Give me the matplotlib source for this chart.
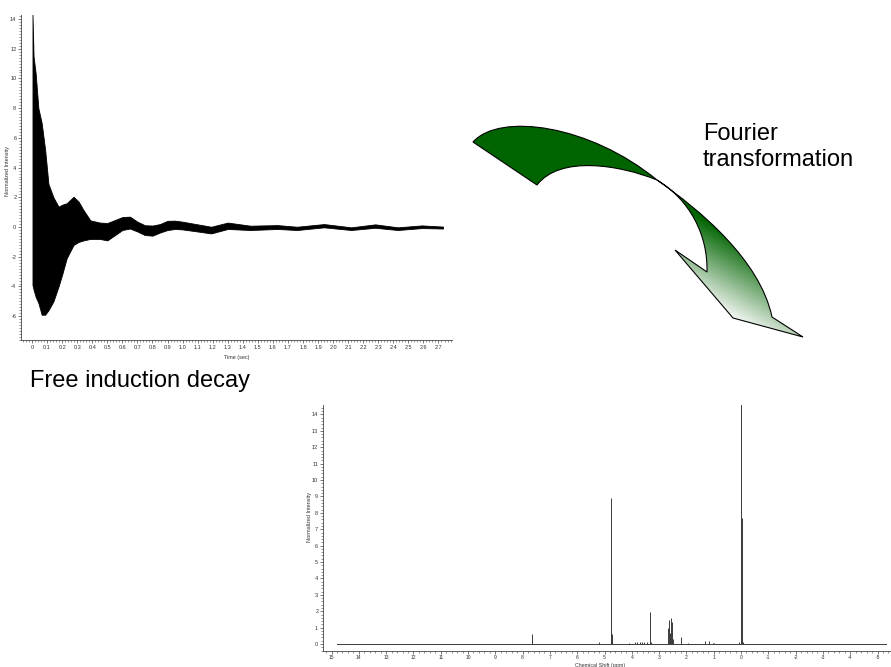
import numpy as np
import matplotlib
matplotlib.use('Agg')
import matplotlib.pyplot as plt
from matplotlib.path import Path
from matplotlib.patches import PathPatch
from matplotlib.colors import LinearSegmentedColormap
from matplotlib.ticker import MultipleLocator, FuncFormatter

plt.rcParams['font.family'] = ['Liberation Sans', 'DejaVu Sans']

# free induction decay: envelope of the oscillating signal (upper / lower edge)
fid_time = [0.003, 0.01, 0.024, 0.042, 0.064, 0.087, 0.109, 0.142, 0.176, 0.2,
            0.23, 0.276, 0.31, 0.342, 0.387, 0.45, 0.5, 0.55, 0.6, 0.65,
            0.7, 0.75, 0.8, 0.85, 0.9, 0.95, 1.0, 1.1, 1.19, 1.3,
            1.45, 1.63, 1.76, 1.94, 2.12, 2.28, 2.43, 2.59, 2.73]
fid_upper = [14.3, 11.5, 10.35, 8.0, 7.0, 5.2, 2.9, 2.0, 1.37, 1.5,
             1.6, 2.04, 1.7, 1.14, 0.45, 0.3, 0.27, 0.47, 0.67, 0.7,
             0.36, 0.12, 0.1, 0.2, 0.42, 0.43, 0.36, 0.18, 0.02, 0.3,
             0.09, 0.13, 0.02, 0.2, -0.02, 0.18, -0.02, 0.11, 0.03]
fid_lower = [-3.9, -4.2, -4.7, -5.1, -5.9, -5.9, -5.6, -5.0, -4.0, -3.2,
             -2.1, -1.2, -1.0, -0.9, -0.8, -0.8, -0.9, -0.55, -0.2, -0.1,
             -0.3, -0.54, -0.58, -0.37, -0.2, -0.13, -0.16, -0.3, -0.43, -0.13,
             -0.2, -0.13, -0.2, -0.02, -0.2, -0.05, -0.2, -0.07, -0.1]

# 1H spectrum: peak positions (ppm) and heights
peak_ppm = [7.67, 5.22, 4.78, 4.77, 4.75, 4.73, 4.71, 4.10, 3.88, 3.80, 3.70,
            3.62, 3.55, 3.45, 3.34, 3.28, 2.66, 2.63, 2.60, 2.56, 2.52, 2.48,
            2.21, 1.95, 1.32, 1.17, 1.02, 0.98, 0.06, 0.0, -0.02, -0.06]
peak_height = [0.6, 0.12, 8.9, 4.8, 1.3, 0.6, 0.25, 0.05, 0.12, 0.1, 0.12,
               0.1, 0.15, 0.12, 1.97, 0.1, 0.96, 1.46, 0.67, 1.6, 1.36, 0.3,
               0.45, 0.05, 0.2, 0.2, 0.07, 0.07, 0.1, 15.0, 7.7, 0.1]
baseline_ppm = [14.8, -5.3]
baseline_val = [0, 0]

fig = plt.figure(figsize=(8.91, 6.67), dpi=100)

# background layer in pixel coordinates for the arrow and captions
bg = fig.add_axes([0, 0, 1, 1])
bg.set_xlim(0, 891)
bg.set_ylim(667, 0)
bg.axis('off')


def style_axis(ax):
    for s in ['top', 'right']:
        ax.spines[s].set_visible(False)
    for s in ['left', 'bottom']:
        ax.spines[s].set_linewidth(0.6)
        ax.spines[s].set_color('#444444')
    ax.tick_params(which='major', direction='out', length=2.5, width=0.5,
                   labelsize=4, pad=1.2, colors='#444444', labelcolor='#333333')
    ax.tick_params(which='minor', direction='out', length=1.3, width=0.4,
                   colors='#444444')


# FID
ax1 = fig.add_axes([0.02413, 0.4903, 0.4832, 0.4879])
ax1.set_facecolor('none')
ax1.fill_between(fid_time, fid_upper, fid_lower, color='black', lw=0.6,
                 edgecolor='black')
ax1.set_xlim(-0.07, 2.79)
ax1.set_ylim(-7.6, 14.3)
ax1.xaxis.set_major_locator(MultipleLocator(0.1))
ax1.xaxis.set_minor_locator(MultipleLocator(0.02))
ax1.yaxis.set_major_locator(MultipleLocator(2))
ax1.yaxis.set_minor_locator(MultipleLocator(0.2))
ax1.xaxis.set_major_formatter(FuncFormatter(
    lambda v, p: '0' if abs(v) < 1e-9 else f'{v:.1f}'))
ax1.yaxis.set_major_formatter(FuncFormatter(lambda v, p: f'{v:.0f}'))
style_axis(ax1)
ax1.set_xlabel('Time (sec)', fontsize=4, color='#333333')
ax1.set_ylabel('Normalized Intensity', fontsize=4, color='#333333')
ax1.xaxis.set_label_coords(0.5, -0.045)
ax1.yaxis.set_label_coords(-0.026, 0.52)

# spectrum
ax2 = fig.add_axes([0.3629, 0.02459, 0.6388, 0.3676])
ax2.set_facecolor('none')
ax2.plot(baseline_ppm, baseline_val, color='#3a3a3a', lw=0.7)
ax2.vlines(peak_ppm, 0, peak_height, color='#3a3a3a', lw=0.7)
ax2.set_xlim(15.3, -5.55)
ax2.set_ylim(-0.4, 14.55)
ax2.xaxis.set_major_locator(MultipleLocator(1))
ax2.xaxis.set_minor_locator(MultipleLocator(0.2))
ax2.yaxis.set_major_locator(MultipleLocator(1))
ax2.yaxis.set_minor_locator(MultipleLocator(0.2))
ax2.xaxis.set_major_formatter(FuncFormatter(lambda v, p: f'{v:.0f}'))
ax2.yaxis.set_major_formatter(FuncFormatter(lambda v, p: f'{v:.0f}'))
style_axis(ax2)
ax2.tick_params(axis='x', which='major', labelsize=3.6, pad=1.0)
ax2.set_xlabel('Chemical Shift (ppm)', fontsize=3.8, color='#333333')
ax2.set_ylabel('Normalized Intensity', fontsize=4, color='#333333')
ax2.xaxis.set_label_coords(0.486, -0.05)
ax2.yaxis.set_label_coords(-0.02, 0.545)

# curved arrow: solid green tail, head fading to white
M, C4, L, CL = Path.MOVETO, Path.CURVE4, Path.LINETO, Path.CLOSEPOLY
tail = Path([(473, 142), (500, 112), (590, 125), (657, 180),
             (620, 165), (560, 155), (537, 185), (473, 142), (473, 142)],
            [M, C4, C4, C4, C4, C4, C4, L, CL])
head = Path([(657, 180), (700, 210), (760, 260), (772, 317),
             (803, 337), (733, 318), (675, 250), (707, 272),
             (708, 235), (690, 200), (657, 180), (657, 180)],
            [M, C4, C4, C4, L, L, L, L, C4, C4, C4, CL])

green = '#006400'
bg.add_patch(PathPatch(tail, facecolor=green, edgecolor='black', lw=0.8))

x0, x1, y0, y1 = 650, 810, 175, 345
gx, gy = np.meshgrid(np.linspace(x0, x1, 200), np.linspace(y0, y1, 200))
proj = -0.5 * gx + 0.87 * gy
grad = np.clip((proj + 162) / 72.0, 0, 1)
cmap = LinearSegmentedColormap.from_list('fade', [green, '#f4f7f4'])
im = bg.imshow(grad, cmap=cmap, extent=(x0, x1, y1, y0), origin='upper',
               aspect='auto', interpolation='bilinear')
head_patch = PathPatch(head, facecolor='none', edgecolor='black', lw=0.8)
bg.add_patch(head_patch)
im.set_clip_path(head_patch)
bg.set_xlim(0, 891)
bg.set_ylim(667, 0)

bg.text(703, 140, 'Fourier', fontsize=17, va='baseline', ha='left')
bg.text(703, 166, 'transformation', fontsize=17, va='baseline', ha='left')
bg.text(30, 387, 'Free induction decay', fontsize=17, va='baseline', ha='left')

fig.savefig('out.png', dpi=100)
